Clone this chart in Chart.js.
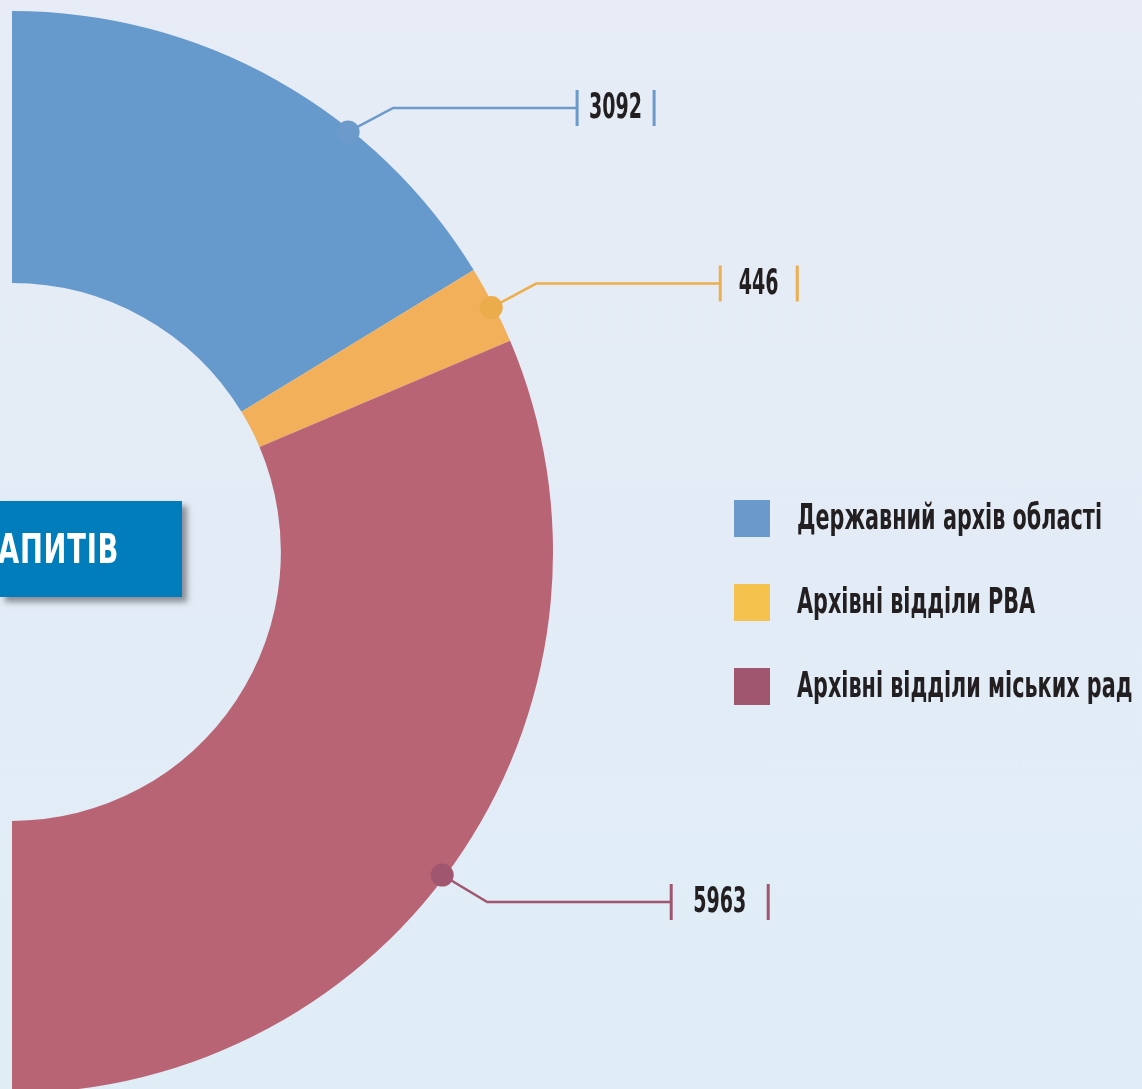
<!DOCTYPE html>
<html>
<head>
<meta charset="utf-8">
<script src="https://cdn.jsdelivr.net/npm/chart.js@4/dist/chart.umd.min.js"></script>
<style>
  html, body { margin: 0; padding: 0; width: 1142px; height: 1089px; overflow: hidden; }
  body { background: linear-gradient(to bottom, #E7ECF6 0%, #E3ECF6 50%, #DFEDF7 100%); position: relative; }
  #c { position: absolute; left: 0; top: 0; }
  #title {
    position: absolute; left: 0; top: 501px; width: 182px; height: 96px;
    background: #007DBA; box-shadow: 5px 5px 6px rgba(60,60,70,0.55);
    color: #fff; font-family: "Liberation Sans Narrow", "DejaVu Sans Condensed", sans-serif;
    font-weight: bold; font-size: 40px; line-height: 96px; overflow: hidden; white-space: nowrap;
  }
  #title span { display: inline-block; transform: scaleX(0.76); transform-origin: left center; letter-spacing: 1px; margin-left: -2px; }
</style>
</head>
<body>
<canvas id="c" width="1142" height="1089"></canvas>
<div id="title"><span>АПИТІВ</span></div>
<script>
const categories = ["Державний архів області", "Архівні відділи РВА", "Архівні відділи міських рад"];
const values = [3092, 446, 5963];
const arcColors = ["#6699CC", "#F2B05A", "#B86474"];
const legendColors = ["#6A99CB", "#F5C34D", "#A0566F"];
const lineColors = ["#6C9ACB", "#EDAE4E", "#A0566F"];
const dotColors = ["#6C9ACB", "#EBAD4C", "#A0566F"];
const labelFrac = [0.66, 0.52, 0.53];
const boxWidths = [77, 77, 97];

const FONT = '"Liberation Sans Narrow", "DejaVu Sans Condensed", sans-serif';

const labelPlugin = {
  id: 'labels',
  afterDraw(chart) {
    const ctx = chart.ctx;
    const meta = chart.getDatasetMeta(0);
    ctx.save();
    ctx.font = 'bold 36px ' + FONT;
    const valScale = 53 / ctx.measureText('3092').width;
    ctx.font = 'bold 35px ' + FONT;
    const legScale = 305 / ctx.measureText(categories[0]).width;
    ctx.restore();
    meta.data.forEach((arc, i) => {
      const p = arc.getProps(['x', 'y', 'startAngle', 'endAngle', 'outerRadius']);
      const a = p.startAngle + labelFrac[i] * (p.endAngle - p.startAngle);
      const r = p.outerRadius - 3;
      const px = p.x + Math.cos(a) * r;
      const py = p.y + Math.sin(a) * r;
      const up = py < p.y;
      const ex = px + 45, ey = py + (up ? -24 : 27);
      const hx = ex + 184;
      ctx.save();
      ctx.strokeStyle = lineColors[i];
      ctx.lineWidth = 2.5;
      ctx.beginPath();
      ctx.moveTo(px, py); ctx.lineTo(ex, ey); ctx.lineTo(hx, ey);
      ctx.stroke();
      ctx.fillStyle = dotColors[i];
      ctx.beginPath();
      ctx.arc(px, py, 11.5, 0, Math.PI * 2);
      ctx.fill();
      ctx.lineWidth = 3;
      ctx.beginPath();
      ctx.moveTo(hx, ey - 18); ctx.lineTo(hx, ey + 18);
      ctx.moveTo(hx + boxWidths[i], ey - 18); ctx.lineTo(hx + boxWidths[i], ey + 18);
      ctx.stroke();
      ctx.fillStyle = '#231F20';
      ctx.font = 'bold 36px ' + FONT;
      ctx.textBaseline = 'middle';
      ctx.textAlign = 'center';
      ctx.translate(hx + boxWidths[i] / 2, ey + 1);
      ctx.scale(valScale, 1);
      ctx.fillText(String(values[i]), 0, 0);
      ctx.restore();
    });
    ctx.save();
    categories.forEach((c, i) => {
      const y = 500 + i * 84;
      ctx.fillStyle = legendColors[i];
      ctx.fillRect(734, y, 36, 37);
      ctx.fillStyle = '#231F20';
      ctx.font = 'bold 35px ' + FONT;
      ctx.textBaseline = 'middle';
      ctx.textAlign = 'left';
      ctx.save();
      ctx.translate(797, y + 20);
      ctx.scale(legScale, 1);
      ctx.fillText(c, 0, 0);
      ctx.restore();
    });
    ctx.restore();
  }
};

new Chart(document.getElementById('c'), {
  type: 'doughnut',
  data: {
    labels: categories,
    datasets: [{
      data: values,
      backgroundColor: arcColors,
      borderWidth: 0,
      hoverOffset: 0
    }]
  },
  options: {
    responsive: false,
    animation: false,
    devicePixelRatio: 1,
    rotation: 0,
    circumference: 180,
    radius: 541,
    cutout: '49.7%',
    layout: { padding: { left: 0, right: 577, top: 15, bottom: 0 } },
    plugins: { legend: { display: false }, tooltip: { enabled: false } }
  },
  plugins: [labelPlugin]
});
</script>
</body>
</html>
